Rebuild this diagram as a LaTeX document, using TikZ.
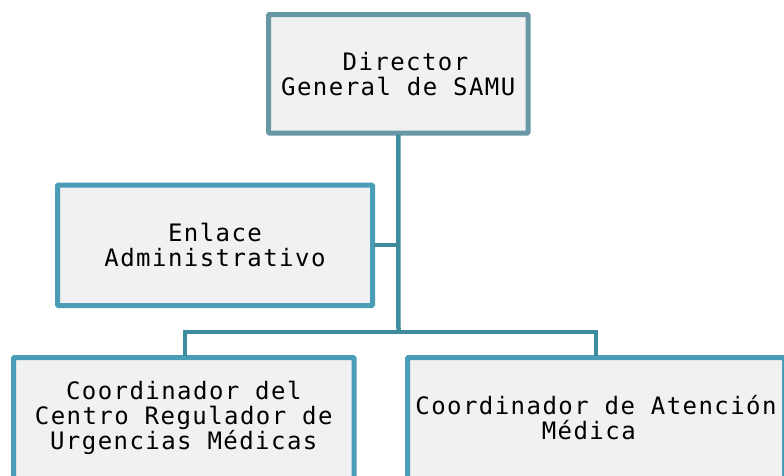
\documentclass[tikz,border=0pt]{standalone}
\usepackage{fontspec}
\setmonofont[LetterSpace=6]{DejaVu Sans Mono}
\definecolor{topborder}{RGB}{104,151,166}
\definecolor{boxborder}{RGB}{74,157,183}
\definecolor{conn}{RGB}{62,139,158}
\definecolor{boxfill}{RGB}{241,241,241}
\tikzset{
  orgbox/.style={draw=boxborder, fill=boxfill, line width=5pt, rounded corners=1pt,
    align=center, inner sep=0pt, font=\ttfamily\fontsize{24}{25}\selectfont},
  link/.style={draw=conn, line width=4.5pt}
}
\begin{document}
\begin{tikzpicture}[x=1pt,y=-1pt]
\useasboundingbox (0,0) rectangle (784,475);
\clip (0,0) rectangle (784,475);
\coordinate (mid) at (398.5,245);
\coordinate (bus) at (398.5,332);
\coordinate (busL) at (185,332);
\coordinate (busR) at (596,332);
\node[orgbox, draw=topborder, minimum width=259.5pt, minimum height=118.5pt] (dir) at (398.25,73.75) {\phantom{a}Director\\General de SAMU};
\node[orgbox, minimum width=315pt, minimum height=120.5pt] (enl) at (215,245.25) {Enlace\\Administrativo};
\node[orgbox, minimum width=340.5pt, minimum height=121pt] (cru) at (183.75,418) {Coordinador del\\Centro Regulador de\\Urgencias Médicas};
\node[orgbox, minimum width=377pt, minimum height=121pt] (cam) at (596,418) {Coordinador de Atención\\Médica\phantom{a}};
\draw[link] ([yshift=1pt]dir.south) -- (bus);
\draw[link] (mid) -- ([xshift=-1pt]enl.east |- mid);
\draw[link, line cap=rect] (busL) -- (busR);
\draw[link] (busL) -- ([yshift=-1pt]cru.north -| busL);
\draw[link] (busR) -- ([yshift=-1pt]cam.north -| busR);
\end{tikzpicture}
\end{document}
